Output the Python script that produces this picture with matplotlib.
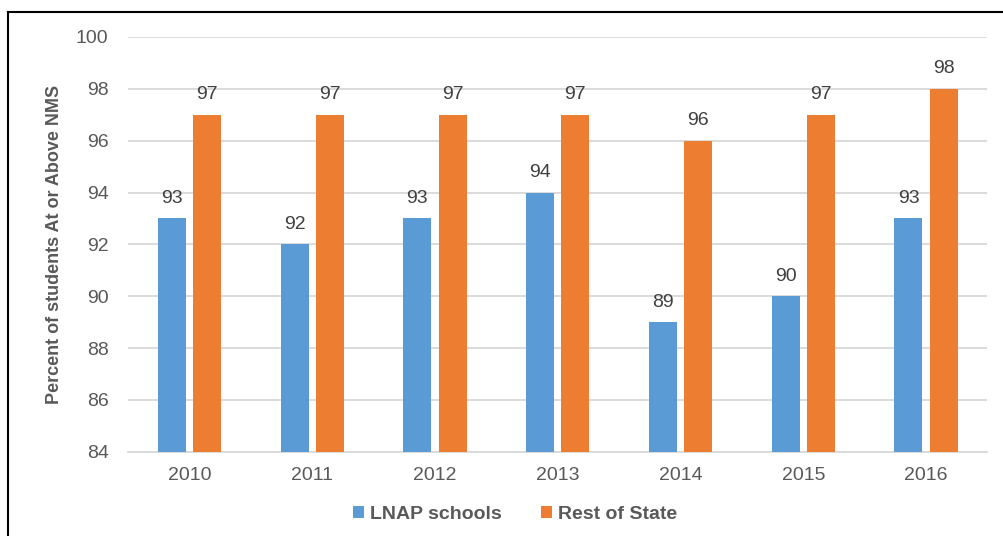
import numpy as np
import matplotlib.pyplot as plt

plt.rcParams['font.family'] = ['Liberation Sans', 'DejaVu Sans']

years = ['2010', '2011', '2012', '2013', '2014', '2015', '2016']
lnap = [93, 92, 93, 94, 89, 90, 93]
rest = [97, 97, 97, 97, 96, 97, 98]

blue = '#5b9bd5'
orange = '#ed7d31'
grid_col = '#d9d9d9'
text_col = '#595959'

fig = plt.figure(figsize=(10.04, 5.36), dpi=100)
ax = fig.add_axes([0.1275, 0.157, 0.856, 0.774])

x = np.arange(len(years))
w = 0.228
off = 0.143
b1 = ax.bar(x - off, lnap, w, bottom=0, color=blue, label='LNAP schools', zorder=3)
b2 = ax.bar(x + off, rest, w, bottom=0, color=orange, label='Rest of State', zorder=3)

for bars, vals in ((b1, lnap), (b2, rest)):
    for rect, v in zip(bars, vals):
        ax.text(rect.get_x() + rect.get_width() / 2, v + 0.45, f'{v}',
                ha='center', va='bottom', fontsize=14, color='#404040')

ax.set_ylim(84, 100)
ax.set_xlim(-0.5, len(years) - 0.5)
ax.set_yticks(range(84, 101, 2))
ax.set_xticks(x)
ax.set_xticklabels(years)
ax.yaxis.grid(True, color=grid_col, linewidth=1.3, zorder=0)
ax.set_axisbelow(True)
for s in ['top', 'right', 'left']:
    ax.spines[s].set_visible(False)
ax.spines['bottom'].set_color(grid_col)
ax.spines['bottom'].set_linewidth(1.3)
ax.tick_params(axis='both', length=0, labelsize=14, labelcolor=text_col)
ax.tick_params(axis='y', pad=14)
ax.tick_params(axis='x', pad=11)
ax.set_ylabel('Percent of students At or Above NMS', fontsize=13, fontweight='bold',
              color=text_col)
ax.yaxis.set_label_coords(-0.076, 0.5)

leg = fig.legend(handles=[b1, b2], loc='center', bbox_to_anchor=(0.513, 0.041), ncol=2,
                 frameon=False, fontsize=14, handlelength=0.6, handleheight=0.6,
                 columnspacing=2.0, handletextpad=0.3)
for t in leg.get_texts():
    t.set_fontweight('bold')
    t.set_color(text_col)

# chart border (only top and left edges visible in the crop)
fig.add_artist(plt.Line2D([0.008, 0.008], [0, 0.978], transform=fig.transFigure,
                          color='black', linewidth=1.5))
fig.add_artist(plt.Line2D([0.008, 1.0], [0.978, 0.978], transform=fig.transFigure,
                          color='black', linewidth=1.5))

fig.savefig('out.png', dpi=100)
